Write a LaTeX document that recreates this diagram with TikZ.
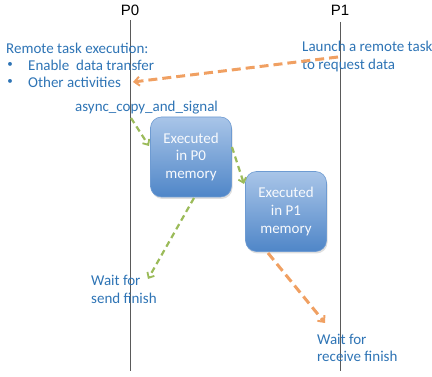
\documentclass[tikz,border=0pt]{standalone}
\usepackage{fontspec}
\setmainfont{Carlito}
\newfontfamily\arialf{Liberation Sans}
\usetikzlibrary{arrows.meta,shadows}
\definecolor{txtblue}{HTML}{2E74B5}
\definecolor{tlgray}{HTML}{5A5A5A}
\definecolor{orangearr}{HTML}{F0A062}
\definecolor{greenarr}{HTML}{9BBB59}
\definecolor{boxtop}{HTML}{A9C5E8}
\definecolor{boxbot}{HTML}{4F86C8}
\definecolor{boxline}{HTML}{6E9BD2}
\tikzset{
  timeline/.style={draw=tlgray, line width=1pt},
  proclabel/.style={font=\arialf\fontsize{15}{17}\selectfont, text=black, inner sep=0pt},
  bluetext/.style={font=\fontsize{15}{17.7}\selectfont, text=txtblue, inner sep=0pt, anchor=west, align=left},
  bulletmark/.style={font=\fontsize{11}{13}\selectfont, text=txtblue, inner sep=0pt},
  taskbox/.style={rounded corners=11pt, top color=boxtop, bottom color=boxbot, draw=boxline, line width=0.6pt,
    minimum width=81pt, minimum height=80pt, align=center, text=white!92!boxtop,
    font=\fontsize{15}{17.7}\selectfont,
    drop shadow={opacity=0.25, shadow xshift=1pt, shadow yshift=-2pt}},
  orangeflow/.style={draw=orangearr, line width=3pt, dash pattern=on 9pt off 5pt,
    -{Straight Barb[length=5pt, width=9pt, line width=2pt]}},
  greenflow/.style={draw=greenarr, line width=2.2pt, dash pattern=on 6pt off 4pt,
    -{Straight Barb[length=4.5pt, width=8pt, line width=1.8pt]}},
}
\begin{document}
\begin{tikzpicture}[x=1pt, y=-1pt]
\useasboundingbox (0,0) rectangle (432,377);
% timelines
\node[proclabel] (P0) at (130,10) {P0};
\node[proclabel] (P1) at (340,10) {P1};
\coordinate (p0top) at (130,20);
\coordinate (p0bot) at (130,371);
\coordinate (p1top) at (340,22);
\coordinate (p1bot) at (340,371);
\draw[timeline] (p0top) -- (p0bot);
\draw[timeline] (p1top) -- (p1bot);
% left texts
\node[bluetext] (rte) at (6,48) {Remote task execution:};
\node[bulletmark] (bul1) at (10,65) {•};
\node[bluetext] (enable) at (28,65) {Enable\ \ data transfer};
\node[bulletmark] (bul2) at (10,82) {•};
\node[bluetext] (other) at (28,82) {Other activities};
\node[bluetext] (launch) at (302,56.5) {Launch a remote task\\to request data};
\node[bluetext] (async) at (75,108) {async\_copy\_and\_signal};
% boxes
\node[taskbox] (b0) at (191,157) {Executed\\in P0\\memory};
\node[taskbox] (b1) at (286,211.5) {Executed\\in P1\\memory};
% bottom texts
\node[bluetext] (wsend) at (91,289.5) {Wait for\\send finish};
\node[bluetext] (wrecv) at (317,348) {Wait for\\receive finish};
% arrows
\coordinate (oA) at (338,57);
\coordinate (oB) at (133,82);
\draw[orangeflow] (oA) -- (oB);
\coordinate (g1s) at (131,118);
\coordinate (g1e) at (149,146);
\draw[greenflow] (g1s) -- (g1e);
\coordinate (g2s) at (232,147);
\coordinate (g2e) at (244,184);
\draw[greenflow] (g2s) -- (g2e);
\coordinate (g3s) at (194,198);
\coordinate (g3e) at (148,279);
\draw[greenflow] (g3s) -- (g3e);
\coordinate (o2s) at (268,253);
\coordinate (o2e) at (325,323);
\draw[orangeflow] (o2s) -- (o2e);
\end{tikzpicture}
\end{document}
